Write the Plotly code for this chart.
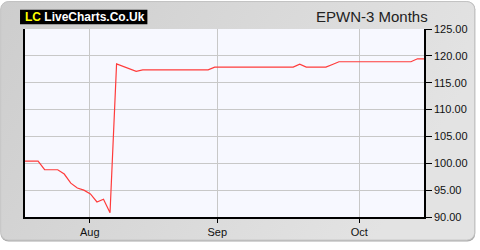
import base64
import plotly.graph_objects as go

# Trading-day index and closing prices
day_index = list(range(62))
prices = [100.4, 100.4, 100.4, 98.8, 98.8, 98.8, 98.0, 96.3, 95.4, 95.0,
          94.3, 92.8, 93.3, 90.8, 118.5, 118.0, 117.5, 117.1, 117.4, 117.4,
          117.4, 117.4, 117.4, 117.4, 117.4, 117.4, 117.4, 117.4, 117.4, 117.9,
          117.9, 117.9, 117.9, 117.9, 117.9, 117.9, 117.9, 117.9, 117.9, 117.9,
          117.9, 117.9, 118.45, 117.9, 117.9, 117.9, 117.9, 118.4, 118.9, 118.9,
          118.9, 118.9, 118.9, 118.9, 118.9, 118.9, 118.9, 118.9, 118.9, 118.9,
          119.45, 119.45]
month_ticks = [9.9, 29.4, 51.1]
month_labels = ["Aug", "Sep", "Oct"]
y_ticks = [90, 95, 100, 105, 110, 115, 120, 125]

W, H = 480, 250
ML, MR, MT, MB = 25, 54, 29, 26
pw, ph = W - ML - MR, H - MT - MB

def px(x):  # figure pixel -> paper x
    return (x - ML) / pw

def py(y):  # figure pixel (from top) -> paper y
    return 1 - (y - MT) / ph

# rounded gradient panel as an SVG background image
svg = (
    '<svg xmlns="http://www.w3.org/2000/svg" width="480" height="250" viewBox="0 0 480 250">'
    '<defs><linearGradient id="g" x1="0" y1="0" x2="1" y2="0.3">'
    '<stop offset="0" stop-color="#cdcdcd"/><stop offset="1" stop-color="#e3e3e3"/>'
    '</linearGradient></defs>'
    '<rect x="0.5" y="0.5" width="477" height="249" rx="8" ry="8" fill="#a9a9a9"/>'
    '<rect x="0.5" y="0.5" width="476.5" height="247.5" rx="8" ry="8" fill="url(#g)" '
    'stroke="#c2c2c2" stroke-width="1"/>'
    '</svg>'
)
svg_uri = "data:image/svg+xml;base64," + base64.b64encode(svg.encode()).decode()

fig = go.Figure()
fig.add_trace(go.Scatter(x=day_index, y=prices, mode="lines",
                         line=dict(color="#ff3b3b", width=1.2),
                         hoverinfo="skip", showlegend=False))

shapes = [
    dict(type="rect", xref="paper", yref="paper", x0=0, x1=1, y0=0, y1=1,
         fillcolor="#f7f8ff", line=dict(width=0), layer="below"),
    dict(type="rect", xref="paper", yref="paper", x0=px(20), x1=px(148),
         y0=py(24), y1=py(9), fillcolor="black", line=dict(width=0)),
]

annotations = [
    dict(xref="paper", yref="paper", x=px(23), y=py(16.5), xanchor="left", yanchor="middle",
         showarrow=False,
         text="<b><span style='color:#ffff00'>LC</span> LiveCharts.Co.Uk</b>",
         font=dict(family="Liberation Sans, Arial", size=12, color="white")),
    dict(xref="paper", yref="paper", x=px(432), y=py(16), xanchor="right", yanchor="middle",
         showarrow=False, text="EPWN-3 Months",
         font=dict(family="Liberation Sans, Arial", size=15, color="#222222")),
]

fig.update_layout(
    width=W, height=H,
    margin=dict(l=ML, r=MR, t=MT, b=MB, pad=0),
    paper_bgcolor="white", plot_bgcolor="#f7f8ff",
    images=[dict(source=svg_uri, xref="paper", yref="paper", x=px(0), y=py(0),
                 sizex=W / pw, sizey=H / ph, xanchor="left", yanchor="top",
                 sizing="stretch", layer="below")],
    shapes=shapes, annotations=annotations,
    font=dict(family="Liberation Sans, Arial", size=11, color="#111111"),
    xaxis=dict(range=[0, 61], tickvals=month_ticks, ticktext=month_labels,
               showgrid=True, gridcolor="#c8c8c8", gridwidth=1,
               showline=True, linecolor="black", linewidth=1.5,
               ticks="outside", ticklen=4, tickcolor="black",
               zeroline=False, fixedrange=True),
    yaxis=dict(range=[90, 125], tickvals=y_ticks, tickformat=".2f", side="right",
               showgrid=True, gridcolor="#c8c8c8", gridwidth=1,
               showline=True, linecolor="black", linewidth=1.5, mirror=True,
               ticks="outside", ticklen=6, tickcolor="black",
               zeroline=False, fixedrange=True),
)

fig.write_html("out.html", config={"displayModeBar": False})
